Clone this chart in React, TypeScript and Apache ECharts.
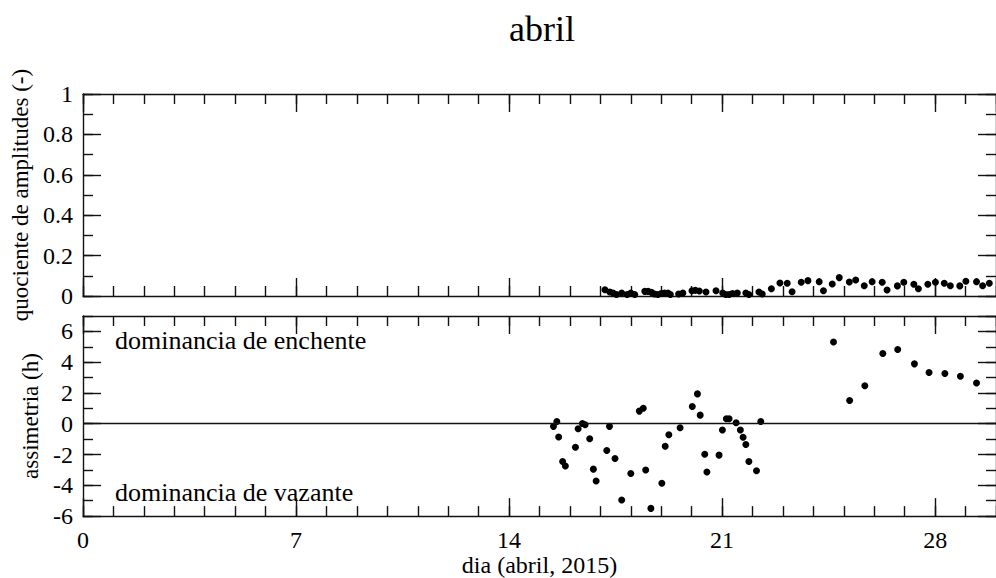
import React, { useEffect, useRef } from "react";
import * as echarts from "echarts";

const FONT = "Liberation Serif, serif";

const titleText = "abril";
const xName = "dia (abril, 2015)";
const topYName = "quociente de amplitudes (-)";
const bottomYName = "assimetria (h)";
const noteFlood = "dominancia de enchente";
const noteEbb = "dominancia de vazante";

// top panel: amplitude ratio
const ampDays = [
  17.15, 17.31, 17.42, 17.53, 17.7, 17.88, 18.0, 18.13, 18.46, 18.57, 18.68, 18.78,
  18.89, 19.0, 19.11, 19.22, 19.3, 19.57, 19.71, 20.01, 20.12, 20.25, 20.47, 20.8,
  21.02, 21.12, 21.23, 21.34, 21.5, 21.78, 21.88, 22.21, 22.32, 22.62, 22.9, 23.14,
  23.3, 23.6, 23.82, 24.19, 24.33, 24.62, 24.85, 25.18, 25.39, 25.67, 25.93, 26.26,
  26.42, 26.76, 26.97, 27.3, 27.45, 27.76, 28.01, 28.3, 28.5, 28.81, 29.01, 29.36,
  29.56, 29.78,
];
const ampValues = [
  0.031, 0.02, 0.015, 0.007, 0.015, 0.007, 0.015, 0.007, 0.023, 0.023, 0.018, 0.01,
  0.007, 0.012, 0.015, 0.015, 0.007, 0.01, 0.015, 0.026, 0.028, 0.025, 0.02, 0.026,
  0.015, 0.007, 0.007, 0.012, 0.015, 0.015, 0.007, 0.02, 0.01, 0.036, 0.064, 0.063,
  0.021, 0.068, 0.076, 0.071, 0.026, 0.059, 0.091, 0.069, 0.079, 0.051, 0.071, 0.068,
  0.03, 0.05, 0.068, 0.058, 0.036, 0.058, 0.068, 0.063, 0.051, 0.05, 0.073, 0.071,
  0.051, 0.063,
];

// bottom panel: asymmetry (hours)
const asymDays = [
  15.46, 15.57, 15.63, 15.76, 15.85, 16.18, 16.27, 16.41, 16.5, 16.65, 16.77, 16.86,
  17.21, 17.3, 17.48, 17.7, 18.0, 18.28, 18.41, 18.49, 18.66, 19.02, 19.13, 19.25,
  19.62, 20.02, 20.19, 20.28, 20.43, 20.5, 20.9, 21.01, 21.14, 21.23, 21.46, 21.6,
  21.69, 21.78, 21.88, 22.13, 22.27, 24.66, 25.19, 25.69, 26.28, 26.77, 27.32, 27.8,
  28.32, 28.83, 29.36,
];
const asymValues = [
  -0.17, 0.15, -0.86, -2.45, -2.75, -1.53, -0.32, 0.02, -0.06, -0.97, -2.95, -3.72,
  -1.74, -0.17, -2.26, -4.95, -3.23, 0.82, 1.01, -3.01, -5.5, -3.87, -1.46, -0.71,
  -0.26, 1.12, 1.94, 0.56, -1.98, -3.14, -2.04, -0.41, 0.32, 0.32, 0.06, -0.41,
  -0.88, -1.35, -2.45, -3.05, 0.15, 5.31, 1.51, 2.47, 4.56, 4.82, 3.89, 3.33,
  3.27, 3.08, 2.65,
];

const X_MIN = 0;
const X_MAX = 30;
const X_MAJOR = 7;
const TOP_Y = [0, 1, 0.2, 0.1];
const BOT_Y = [-6, 7, 2, 1];

const INK = "#111";

function xAxes(grid: number, labels: boolean) {
  const common = {
    type: "value",
    gridIndex: grid,
    min: X_MIN,
    max: X_MAX,
    splitLine: { show: false },
  };
  const major = (pos: string, withLabel: boolean) => ({
    ...common,
    position: pos,
    interval: X_MAJOR,
    axisLine: { show: true, onZero: false, lineStyle: { color: INK, width: 1.4 } },
    axisTick: { show: true, inside: true, length: 18, lineStyle: { color: INK, width: 1.4 } },
    axisLabel: {
      show: withLabel,
      showMaxLabel: false,
      margin: 12,
      fontSize: 24,
      fontFamily: FONT,
      color: "#000",
    },
    name: withLabel ? xName : "",
    nameLocation: "middle",
    nameGap: 36,
    nameTextStyle: { fontSize: 24, fontFamily: FONT, color: "#000" },
  });
  const minor = (pos: string) => ({
    ...common,
    position: pos,
    interval: 1,
    axisLine: { show: false, onZero: false },
    axisTick: { show: true, inside: true, length: 10, lineStyle: { color: INK, width: 1.4 } },
    axisLabel: { show: false },
  });
  return [major("bottom", labels), minor("bottom"), major("top", false), minor("top")];
}

function yAxes(grid: number, range: number[], name: string, nameGap: number) {
  const [mn, mx, iv, miv] = range;
  const common = { type: "value", gridIndex: grid, min: mn, max: mx, splitLine: { show: false } };
  const major = (pos: string, withLabel: boolean) => ({
    ...common,
    position: pos,
    interval: iv,
    axisLine: { show: true, onZero: false, lineStyle: { color: INK, width: 1.4 } },
    axisTick: { show: true, inside: true, length: 18, lineStyle: { color: INK, width: 1.4 } },
    axisLabel: {
      show: withLabel,
      showMaxLabel: grid === 0,
      margin: 10,
      fontSize: 24,
      fontFamily: FONT,
      color: "#000",
    },
    name: withLabel ? name : "",
    nameLocation: "middle",
    nameGap,
    nameTextStyle: { fontSize: 23, fontFamily: FONT, color: "#000" },
  });
  const minor = (pos: string) => ({
    ...common,
    position: pos,
    interval: miv,
    axisLine: { show: false, onZero: false },
    axisTick: { show: true, inside: true, length: 10, lineStyle: { color: INK, width: 1.4 } },
    axisLabel: { show: false },
  });
  return [major("left", true), minor("left"), major("right", false), minor("right")];
}

export default function App() {
  const ref = useRef<HTMLDivElement>(null);
  useEffect(() => {
    if (!ref.current) return;
    const chart = echarts.init(ref.current, undefined, { renderer: "svg" });
    const ampData = ampDays.map((d, i) => [d, ampValues[i]]);
    const asymData = asymDays.map((d, i) => [d, asymValues[i]]);
    chart.setOption({
      animation: false,
      backgroundColor: "#fff",
      title: {
        text: titleText,
        left: 537,
        top: 6,
        textAlign: "center",
        textStyle: { fontSize: 36, fontWeight: "normal", fontFamily: FONT, color: "#000" },
      },
      grid: [
        { left: 83, top: 94, width: 919, height: 202 },
        { left: 83, top: 316, width: 919, height: 201 },
      ],
      xAxis: [...xAxes(0, false), ...xAxes(1, true)],
      yAxis: [
        ...yAxes(0, TOP_Y, topYName, 50),
        ...yAxes(1, BOT_Y, bottomYName, 41),
      ],
      series: [
        {
          type: "scatter",
          xAxisIndex: 0,
          yAxisIndex: 0,
          data: ampData,
          symbol: "circle",
          symbolSize: 7,
          itemStyle: { color: "#000", opacity: 1 },
          clip: true,
        },
        {
          type: "scatter",
          xAxisIndex: 4,
          yAxisIndex: 4,
          data: asymData,
          symbol: "circle",
          symbolSize: 7,
          itemStyle: { color: "#000", opacity: 1 },
          clip: true,
          markLine: {
            silent: true,
            symbol: "none",
            label: { show: false },
            lineStyle: { color: INK, width: 1.4, type: "solid" },
            data: [{ yAxis: 0 }],
          },
        },
      ],
      graphic: [
        {
          type: "text",
          x: 115,
          y: 340,
          style: {
            text: noteFlood,
            fontSize: 26,
            fontFamily: FONT,
            fill: "#000",
            verticalAlign: "middle",
          },
        },
        {
          type: "text",
          x: 115,
          y: 492,
          style: {
            text: noteEbb,
            fontSize: 26,
            fontFamily: FONT,
            fill: "#000",
            verticalAlign: "middle",
          },
        },
      ],
    });
    return () => chart.dispose();
  }, []);
  return (
    <div
      ref={ref}
      style={{ position: "absolute", left: 0, top: 0, width: 996, height: 578 }}
    />
  );
}
